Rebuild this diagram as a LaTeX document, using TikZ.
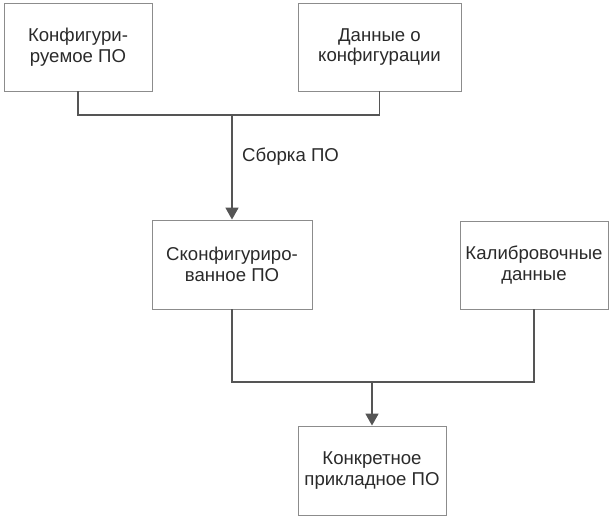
\documentclass[tikz,border=0pt]{standalone}
\usepackage{fontspec}
\setmainfont{Liberation Sans}
\usetikzlibrary{arrows.meta}
\definecolor{boxline}{HTML}{8C8C8C}
\definecolor{conn}{HTML}{555555}
\definecolor{txt}{HTML}{2A2A2A}
\begin{document}
\begin{tikzpicture}[x=1pt,y=-1pt,
  box/.style={draw=boxline,line width=0.9pt,rectangle,inner sep=0pt,
    align=center,text=txt,font=\fontsize{18.6}{20.5}\selectfont,minimum height=88pt},
  link/.style={draw=conn,line width=1.8pt},
  arr/.style={link,-{Triangle[width=13pt,length=12pt]}},
  lbl/.style={text=txt,font=\fontsize{18.6}{20.5}\selectfont,inner sep=0pt}]
\useasboundingbox (0,0) rectangle (611,519);
\node[box,minimum width=148pt] (b1) at (78,47) {Конфигури-\\руемое ПО};
\node[box,minimum width=163pt] (b2) at (379.5,47) {Данные о\\конфигурации};
\node[box,minimum width=160pt,minimum height=89pt] (b3) at (232,264.5) {Сконфигуриро-\\ванное ПО};
\node[box,minimum width=148pt] (b4) at (534,265) {Калибровочные\\данные};
\node[box,minimum width=148pt,minimum height=89pt] (b5) at (372,470.5) {Конкретное\\прикладное ПО};
\coordinate (j1) at (232,115);
\coordinate (j2) at (372,382);
\draw[link] (b1.south) -- (b1.south |- j1) -- (b2.south |- j1) -- (b2.south);
\draw[arr] (j1) -- (b3.north);
\node[lbl,anchor=west] (l1) at (242,157) {Сборка ПО};
\draw[link] (b3.south) -- (b3.south |- j2) -- (b4.south |- j2) -- (b4.south);
\draw[arr] (j2) -- (b5.north);
\end{tikzpicture}
\end{document}
